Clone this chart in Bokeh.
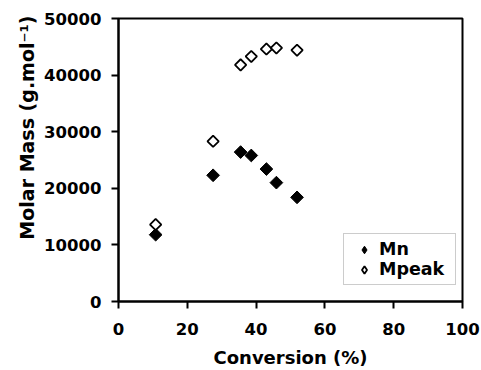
import math
from bokeh.plotting import figure
from bokeh.models import Range1d, Legend, LegendItem, FixedTicker, Title
from bokeh.embed import file_html
from bokeh.resources import INLINE

# Data
conversion = [10.8, 27.5, 35.5, 38.6, 43.0, 45.9, 51.9]
mn = [11800, 22300, 26400, 25800, 23400, 21000, 18400]
mpeak = [13600, 28300, 41800, 43300, 44600, 44800, 44400]
x_ticks = [0, 20, 40, 60, 80, 100]
y_ticks = [0, 10000, 20000, 30000, 40000, 50000]

FONT = "DejaVu Sans"
NAN = float("nan")

p = figure(width=481, height=370, output_backend="svg", toolbar_location=None,
           x_range=Range1d(0, 100), y_range=Range1d(0, 50000),
           min_border_left=118, min_border_right=19, min_border_top=18,
           min_border_bottom=68)
p.xgrid.visible = False
p.ygrid.visible = False
p.outline_line_color = "black"
p.outline_line_width = 2
p.outline_line_alpha = 1.0

for ax in (p.xaxis[0], p.yaxis[0]):
    ax.axis_line_width = 2
    ax.major_tick_line_width = 2
    ax.major_tick_in = 0
    ax.major_tick_out = 7
    ax.minor_tick_line_color = None
    ax.major_label_text_font = FONT
    ax.major_label_text_font_style = "bold"
    ax.major_label_text_font_size = "16.5px"
    ax.major_label_text_color = "black"
    ax.axis_label_text_font = FONT
    ax.axis_label_text_font_style = "bold"
    ax.axis_label_text_font_size = "18px"
    ax.axis_label_text_color = "black"

p.xaxis.ticker = FixedTicker(ticks=x_ticks)
p.yaxis.ticker = FixedTicker(ticks=y_ticks)
p.xaxis.axis_label = "Conversion (%)"
p.xaxis.major_label_standoff = 14
p.yaxis.major_label_standoff = 10
p.xaxis.axis_label_standoff = 9

# y-axis title as a side title so it can be shifted upward like the reference
ytitle = Title(text="Molar Mass (g.mol\u207b\u00b9)", align="right", offset=-3,
               text_font=FONT, text_font_style="bold", text_font_size="19px",
               text_color="black", standoff=8)
p.add_layout(ytitle, "left")

r_mn = p.scatter(conversion, mn, marker="square", size=9, angle=math.pi / 4,
                 fill_color="black", line_color="black", line_width=1)
r_mp = p.scatter(conversion, mpeak, marker="square", size=8, angle=math.pi / 4,
                 fill_color="white", line_color="black", line_width=1.8)

# legend-only renderers (nothing visible) so the legend shows diamond glyphs
l_mn = p.scatter([NAN], [NAN], marker="diamond", size=14,
                 fill_color="black", line_color="black", line_width=1)
l_mp = p.scatter([NAN], [NAN], marker="diamond", size=13,
                 fill_color="white", line_color="black", line_width=1.8)

legend = Legend(items=[LegendItem(label="Mn", renderers=[l_mn]),
                       LegendItem(label="Mpeak", renderers=[l_mp])],
                location=(225, 16), orientation="vertical")
legend.label_text_font = FONT
legend.label_text_font_style = "bold"
legend.label_text_font_size = "17.5px"
legend.label_text_color = "black"
legend.border_line_color = "#999999"
legend.border_line_width = 1
legend.background_fill_color = "white"
legend.background_fill_alpha = 1.0
legend.glyph_width = 30
legend.glyph_height = 19
legend.label_height = 19
legend.spacing = 0
legend.padding = 5
legend.margin = 0
legend.label_standoff = 0
legend.label_width = 71
p.add_layout(legend, "center")

open("out.html", "w").write(file_html(p, INLINE))
